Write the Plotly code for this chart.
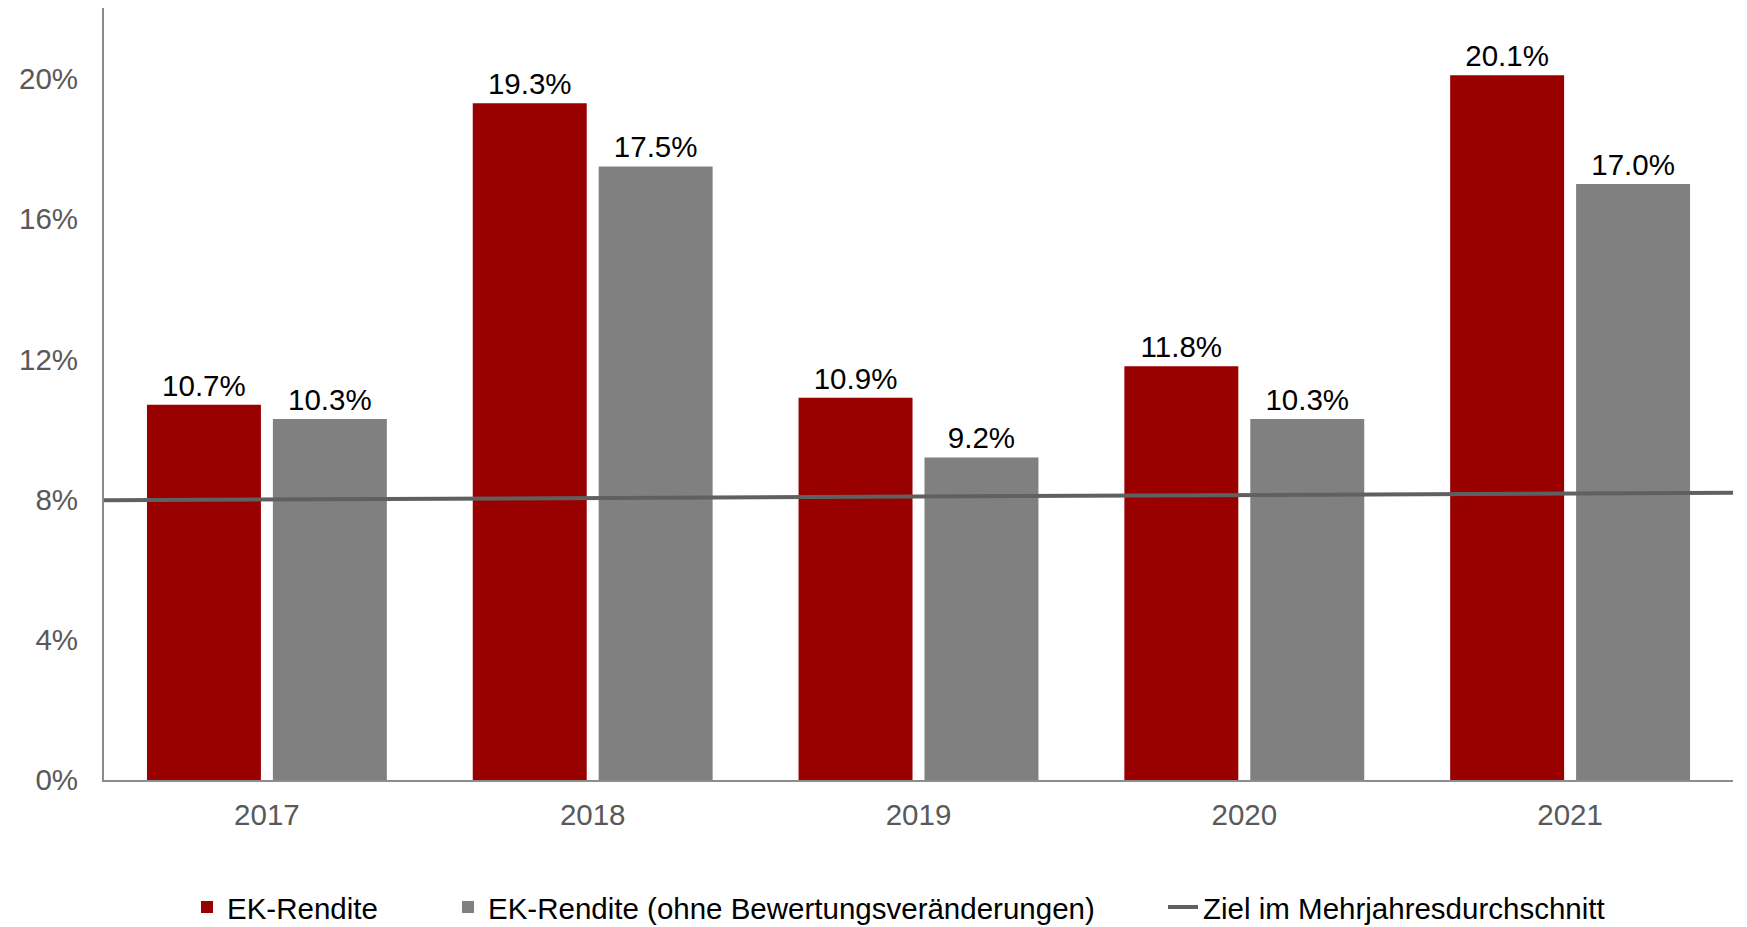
import plotly.graph_objects as go

# Return on equity by year
years = ["2017", "2018", "2019", "2020", "2021"]
ek_rendite = [10.7, 19.3, 10.9, 11.8, 20.1]
ek_rendite_ohne = [10.3, 17.5, 9.2, 10.3, 17.0]

# Multi-year target line (start / end of the plotted span)
ziel_x = [-0.5, 4.5]
ziel_y = [7.98, 8.19]

y_ticks = [0, 4, 8, 12, 16, 20]

FONT = "Liberation Sans, Arial, sans-serif"
FS = 29.5
RED = "#990000"
GREY = "#808080"
LINE = "#606060"

x_idx = list(range(len(years)))

fig = go.Figure()

fig.add_trace(go.Bar(
    x=x_idx, y=ek_rendite, name="EK-Rendite",
    marker=dict(color=RED, line=dict(width=0)),
    texttemplate="%{y:.1f}%", textposition="outside",
    textfont=dict(family=FONT, size=FS, color="#000000"),
    cliponaxis=False, legend="legend", showlegend=True,
))
fig.add_trace(go.Bar(
    x=x_idx, y=ek_rendite_ohne,
    name="EK-Rendite (ohne Bewertungsveränderungen)",
    marker=dict(color=GREY, line=dict(width=0)),
    texttemplate="%{y:.1f}%", textposition="outside",
    textfont=dict(family=FONT, size=FS, color="#000000"),
    cliponaxis=False, legend="legend2", showlegend=True,
))
fig.add_trace(go.Scatter(
    x=ziel_x, y=ziel_y, mode="lines",
    name="Ziel im Mehrjahresdurchschnitt",
    line=dict(color=LINE, width=4),
    legend="legend3", showlegend=True,
))

legend_common = dict(
    orientation="h", yanchor="middle", y=-0.165, xanchor="left",
    font=dict(family=FONT, size=FS, color="#000000"),
    bgcolor="rgba(0,0,0,0)", borderwidth=0,
)

fig.update_layout(
    width=1747, height=927,
    margin=dict(l=104, r=14, t=8, b=147, autoexpand=False),
    paper_bgcolor="white", plot_bgcolor="white",
    showlegend=True,
    barmode="group", bargap=0.227, bargroupgap=0.095,
    font=dict(family=FONT, size=FS, color="#595959"),
    legend=dict(legend_common, x=(187 - 104) / 1629),
    legend2=dict(legend_common, x=(448 - 104) / 1629),
    legend3=dict(legend_common, x=(1163 - 104) / 1629),
    xaxis=dict(
        range=[-0.5, 4.5], tickmode="array", tickvals=x_idx, ticktext=years,
        showgrid=False, zeroline=False,
        showline=True, linecolor="#8c8c8c", linewidth=2,
        ticks="", ticklabelstandoff=8,
        tickfont=dict(family=FONT, size=FS, color="#595959"),
    ),
    yaxis=dict(
        range=[0, 22.02], tickmode="array", tickvals=y_ticks,
        ticktext=[f"{v}%" for v in y_ticks],
        showgrid=False, zeroline=False,
        showline=True, linecolor="#8c8c8c", linewidth=2,
        ticks="", ticklabelstandoff=18,
        tickfont=dict(family=FONT, size=FS, color="#595959"),
    ),
)

fig.write_html("out.html")
